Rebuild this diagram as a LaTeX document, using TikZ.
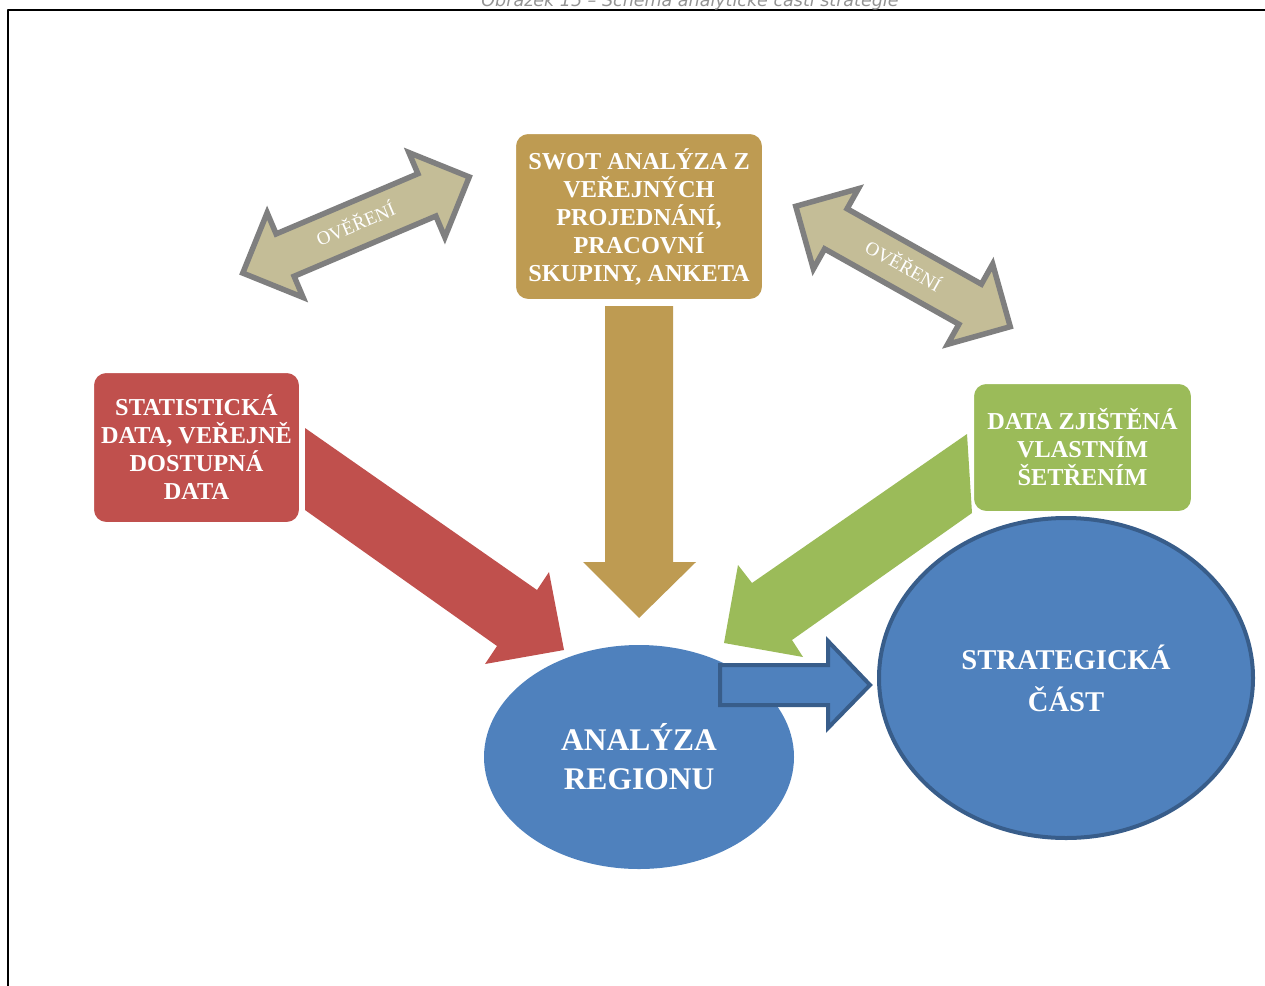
\documentclass[tikz,border=0pt]{standalone}
\usepackage{fontspec}
\setmainfont{Liberation Serif}
\newfontfamily\captionfont{DejaVu Sans}
\usetikzlibrary{shapes.geometric}
\definecolor{swotcol}{HTML}{BE9B52}
\definecolor{statcol}{HTML}{C0504D}
\definecolor{ownccol}{HTML}{9BBB59}
\definecolor{regcol}{HTML}{4F81BD}
\definecolor{regline}{HTML}{385D8A}
\definecolor{verfill}{HTML}{C4BD97}
\definecolor{verline}{HTML}{7F7F7F}
\tikzset{
  databox/.style={rectangle, rounded corners=13pt, draw=white, line width=2pt, text=white,
    align=center, inner sep=0pt, font=\bfseries\fontsize{24.3}{28}\selectfont},
  regblob/.style={ellipse, fill=regcol, text=white, align=center, inner sep=0pt,
    font=\bfseries\fontsize{31.5}{39}\selectfont},
  verarrow/.style={fill=verfill, draw=verline, line width=5.5pt, line join=miter},
  vertext/.style={text=white, transform shape, font=\fontsize{19}{19}\selectfont}
}
\begin{document}
\begin{tikzpicture}[x=1pt, y=-1pt, line join=round]
\useasboundingbox (0,0) rectangle (1265,985);
\clip (0,0) rectangle (1265,985);
\def\hl{123}
\def\hh{46}
\def\sw{23}
\pgfmathsetmacro{\hb}{\hl-\hh}
% frame and caption
\draw[line width=2pt] (1270,10) -- (8,10) -- (8,990);
\node[anchor=base, text=gray!85, font=\captionfont\itshape\fontsize{17.5}{17.5}\selectfont] (cap) at (690,6)
  {Obrázek 15 – Schéma analytické části strategie};
% block arrows
\fill[statcol] (305,428) -- (537,590) -- (549,572) -- (564,650) -- (485,664) -- (497,646) -- (305,510) -- cycle;
\fill[swotcol] (605,306) -- (673,306) -- (673,562) -- (696,562) -- (639,618) -- (583,562) -- (605,562) -- cycle;
\fill[ownccol] (967,434) -- (752,583) -- (738,565) -- (724,643) -- (803,657) -- (792,640) -- (972,513) -- cycle;
% boxes
\node[databox, fill=swotcol, minimum width=248pt, minimum height=167pt] (swot) at (639,216.5)
  {SWOT ANALÝZA Z\\VEŘEJNÝCH\\PROJEDNÁNÍ,\\PRACOVNÍ\\SKUPINY, ANKETA};
\node[databox, fill=statcol, minimum width=207pt, minimum height=151pt] (stat) at (196.5,447.5)
  {STATISTICKÁ\\DATA, VEŘEJNĚ\\DOSTUPNÁ\\DATA};
\node[databox, fill=ownccol, minimum width=219pt, minimum height=129pt] (own) at (1082.5,447.5)
  {DATA ZJIŠTĚNÁ\\VLASTNÍM\\ŠETŘENÍM};
% ellipses
\node[regblob, minimum width=310pt, minimum height=224pt] (reg) at (639,757) {ANALÝZA\\REGIONU};
\node[regblob, draw=regline, line width=4pt, minimum width=374pt, minimum height=320pt,
  font=\bfseries\fontsize{28.6}{42}\selectfont] (strat) at (1066,678) {STRATEGICKÁ\\ČÁST};
\draw[fill=regcol, draw=regline, line width=4pt, line join=miter]
  (720,665) -- (828,665) -- (828,641) -- (870,685) -- (828,728) -- (828,705) -- (720,705) -- cycle;
% verification arrows
\foreach \cx/\cy/\a/\n in {356/225/23/verl, 903/266.5/-29.3/verr}{
  \begin{scope}[shift={(\cx,\cy)}, rotate=\a]
    \draw[verarrow] (-\hl,0) -- (-\hb,\hh) -- (-\hb,\sw) -- (\hb,\sw) -- (\hb,\hh) -- (\hl,0)
      -- (\hb,-\hh) -- (\hb,-\sw) -- (-\hb,-\sw) -- (-\hb,-\hh) -- cycle;
    \node[vertext] (\n) at (0,-2) {OVĚŘENÍ};
  \end{scope}
}
\end{tikzpicture}
\end{document}
